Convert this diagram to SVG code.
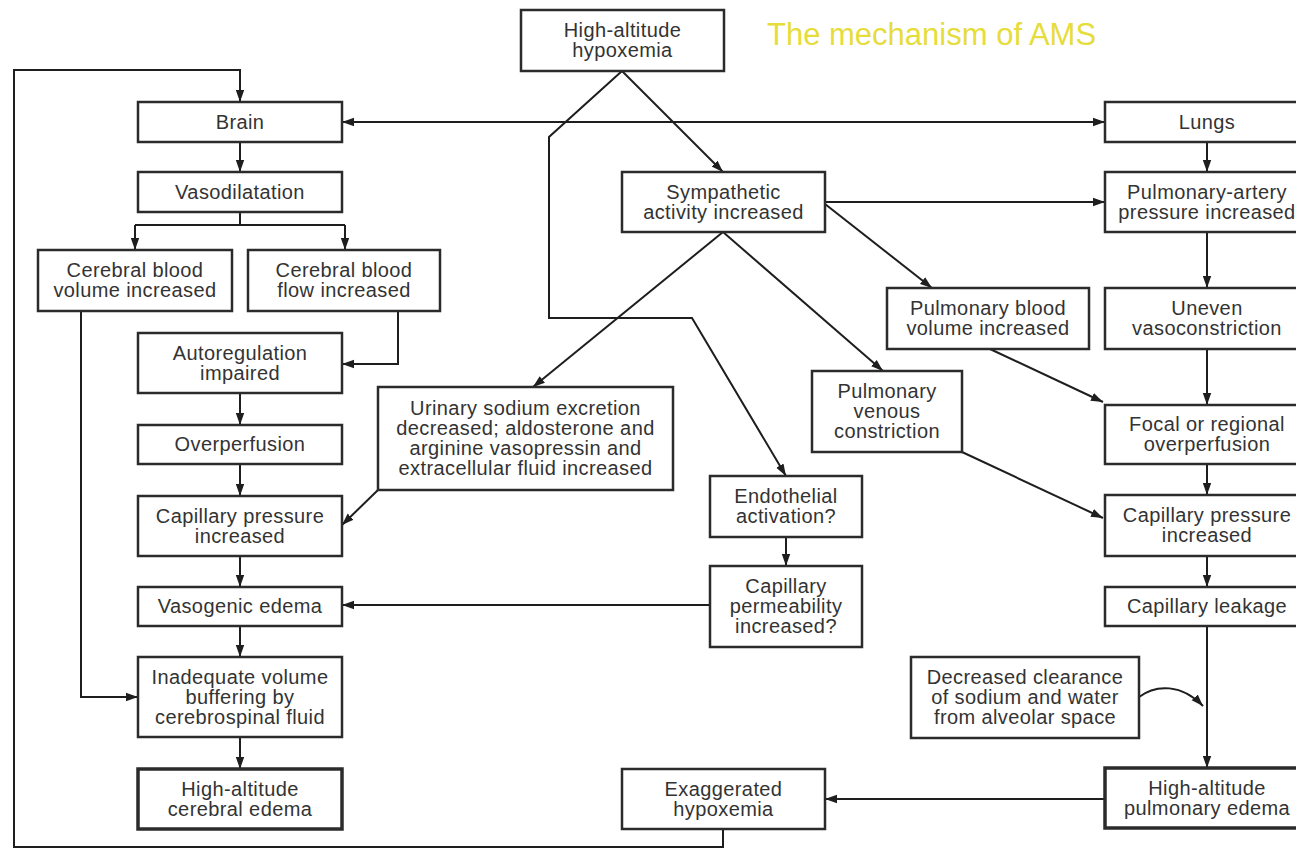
<svg xmlns="http://www.w3.org/2000/svg" width="1296" height="849" viewBox="0 0 1296 849">
<defs>
<marker id="ah" markerUnits="userSpaceOnUse" markerWidth="12" markerHeight="10" refX="12" refY="5" orient="auto-start-reverse" viewBox="0 0 12 10">
<path d="M0,0.8 L12,5 L0,9.2 z" fill="#1e1e1e"/>
</marker>
</defs>
<style>
.box{fill:#fff;stroke:#2b2b2b;stroke-width:2.5}
.thick{stroke-width:3.5}
.lbl{font-family:"Liberation Sans",Arial,sans-serif;font-size:20px;letter-spacing:0.4px;fill:#333;text-anchor:middle}
.c{fill:none;stroke:#1e1e1e;stroke-width:2}
.a{marker-end:url(#ah)}
.title{font-family:"Liberation Sans",Arial,sans-serif;font-size:31px;fill:#e6dc3a}
</style>
<rect width="1296" height="849" fill="#fff"/>
<text class="title" x="767" y="45">The mechanism of AMS</text>

<g id="connectors">
<path class="c a" d="M622,71 L723,172"/>
<path class="c a" d="M622,71 L549,137 L549,318 L692,318 L786,476"/>
<path class="c a" d="M342,122 L1105,122" marker-start="url(#ah)"/>
<path class="c a" d="M240,142 L240,172"/>
<path class="c" d="M240,212 L240,225 M135,225 L345,225"/>
<path class="c a" d="M135,225 L135,250"/>
<path class="c a" d="M345,225 L345,250"/>
<path class="c a" d="M398,311 L398,364 L342,364"/>
<path class="c a" d="M81,311 L81,697 L138,697"/>
<path class="c a" d="M240,393 L240,425"/>
<path class="c a" d="M240,464 L240,496"/>
<path class="c a" d="M240,556 L240,587"/>
<path class="c a" d="M240,626 L240,657"/>
<path class="c a" d="M240,737 L240,769"/>
<path class="c a" d="M378,490 L342,525"/>
<path class="c a" d="M723,232 L533,387"/>
<path class="c a" d="M723,232 L883,371"/>
<path class="c a" d="M825,202 L1105,202"/>
<path class="c a" d="M825,204 L932,288"/>
<path class="c a" d="M1207,142 L1207,172"/>
<path class="c a" d="M1207,232 L1207,288"/>
<path class="c a" d="M1207,349 L1207,405"/>
<path class="c a" d="M990,349 L1103,402"/>
<path class="c a" d="M1207,464 L1207,495"/>
<path class="c a" d="M962,452 L1103,518"/>
<path class="c a" d="M1207,556 L1207,587"/>
<path class="c a" d="M1207,626 L1207,768"/>
<path class="c a" d="M1139,697 C1156,684 1182,684 1203,706"/>
<path class="c a" d="M1105,799 L825,799"/>
<path class="c a" d="M723,829 L723,847 L14,847 L14,70 L240,70 L240,102"/>
<path class="c a" d="M710,605 L342,605"/>
<path class="c a" d="M786,537 L786,566"/>
</g>

<g id="hypoxemia"><rect class="box" x="521" y="10" width="203" height="61"/><text class="lbl" x="622.5" y="37">High-altitude<tspan x="622.5" dy="20">hypoxemia</tspan></text></g>
<g id="brain"><rect class="box" x="138" y="102" width="204" height="40"/><text class="lbl" x="240" y="129">Brain</text></g>
<g id="vasodilatation"><rect class="box" x="138" y="172" width="204" height="40"/><text class="lbl" x="240" y="199">Vasodilatation</text></g>
<g id="cbv"><rect class="box" x="38" y="250" width="194" height="61"/><text class="lbl" x="135" y="277">Cerebral blood<tspan x="135" dy="20">volume increased</tspan></text></g>
<g id="cbf"><rect class="box" x="248" y="250" width="192" height="61"/><text class="lbl" x="344" y="277">Cerebral blood<tspan x="344" dy="20">flow increased</tspan></text></g>
<g id="autoregulation"><rect class="box" x="138" y="333" width="204" height="60"/><text class="lbl" x="240" y="360">Autoregulation<tspan x="240" dy="20">impaired</tspan></text></g>
<g id="overperfusion"><rect class="box" x="138" y="425" width="204" height="39"/><text class="lbl" x="240" y="451">Overperfusion</text></g>
<g id="cap-pressure-brain"><rect class="box" x="138" y="496" width="204" height="60"/><text class="lbl" x="240" y="523">Capillary pressure<tspan x="240" dy="20">increased</tspan></text></g>
<g id="vasogenic"><rect class="box" x="138" y="587" width="204" height="39"/><text class="lbl" x="240" y="613">Vasogenic edema</text></g>
<g id="inadequate"><rect class="box" x="138" y="657" width="204" height="80"/><text class="lbl" x="240" y="684">Inadequate volume<tspan x="240" dy="20">buffering by</tspan><tspan x="240" dy="20">cerebrospinal fluid</tspan></text></g>
<g id="hace"><rect class="box thick" x="138" y="769" width="204" height="60"/><text class="lbl" x="240" y="796">High-altitude<tspan x="240" dy="20">cerebral edema</tspan></text></g>
<g id="sympathetic"><rect class="box" x="622" y="172" width="203" height="60"/><text class="lbl" x="723.5" y="199">Sympathetic<tspan x="723.5" dy="20">activity increased</tspan></text></g>
<g id="urinary"><rect class="box" x="378" y="387" width="295" height="103"/><text class="lbl" x="525.5" y="415">Urinary sodium excretion<tspan x="525.5" dy="20">decreased; aldosterone and</tspan><tspan x="525.5" dy="20">arginine vasopressin and</tspan><tspan x="525.5" dy="20">extracellular fluid increased</tspan></text></g>
<g id="endothelial"><rect class="box" x="710" y="476" width="152" height="61"/><text class="lbl" x="786" y="503">Endothelial<tspan x="786" dy="20">activation?</tspan></text></g>
<g id="permeability"><rect class="box" x="710" y="566" width="152" height="81"/><text class="lbl" x="786" y="593">Capillary<tspan x="786" dy="20">permeability</tspan><tspan x="786" dy="20">increased?</tspan></text></g>
<g id="pbv"><rect class="box" x="887" y="288" width="202" height="61"/><text class="lbl" x="988" y="315">Pulmonary blood<tspan x="988" dy="20">volume increased</tspan></text></g>
<g id="pvc"><rect class="box" x="812" y="371" width="150" height="81"/><text class="lbl" x="887" y="398">Pulmonary<tspan x="887" dy="20">venous</tspan><tspan x="887" dy="20">constriction</tspan></text></g>
<g id="lungs"><rect class="box" x="1105" y="102" width="204" height="40"/><text class="lbl" x="1207" y="129">Lungs</text></g>
<g id="pap"><rect class="box" x="1105" y="172" width="204" height="60"/><text class="lbl" x="1207" y="199">Pulmonary-artery<tspan x="1207" dy="20">pressure increased</tspan></text></g>
<g id="uneven"><rect class="box" x="1105" y="288" width="204" height="61"/><text class="lbl" x="1207" y="315">Uneven<tspan x="1207" dy="20">vasoconstriction</tspan></text></g>
<g id="focal"><rect class="box" x="1105" y="405" width="204" height="59"/><text class="lbl" x="1207" y="431">Focal or regional<tspan x="1207" dy="20">overperfusion</tspan></text></g>
<g id="cap-pressure-lung"><rect class="box" x="1105" y="495" width="204" height="61"/><text class="lbl" x="1207" y="522">Capillary pressure<tspan x="1207" dy="20">increased</tspan></text></g>
<g id="leakage"><rect class="box" x="1105" y="587" width="204" height="39"/><text class="lbl" x="1207" y="613">Capillary leakage</text></g>
<g id="clearance"><rect class="box" x="911" y="657" width="228" height="81"/><text class="lbl" x="1025" y="684">Decreased clearance<tspan x="1025" dy="20">of sodium and water</tspan><tspan x="1025" dy="20">from alveolar space</tspan></text></g>
<g id="hape"><rect class="box thick" x="1105" y="768" width="204" height="60"/><text class="lbl" x="1207" y="795">High-altitude<tspan x="1207" dy="20">pulmonary edema</tspan></text></g>
<g id="exaggerated"><rect class="box" x="622" y="769" width="203" height="60"/><text class="lbl" x="723.5" y="796">Exaggerated<tspan x="723.5" dy="20">hypoxemia</tspan></text></g>
</svg>
